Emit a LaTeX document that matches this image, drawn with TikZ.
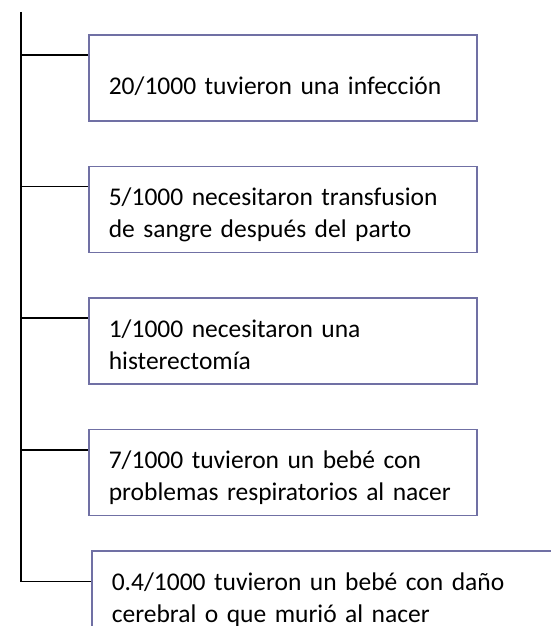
\documentclass[tikz,border=0pt]{standalone}
\usepackage{fontspec}
\setmainfont{Carlito}
\usepackage{xcolor}
\usetikzlibrary{positioning,calc}
\definecolor{borde}{RGB}{112,112,164}

\begin{document}
\begin{tikzpicture}[x=1pt, y=1pt, caja/.style={draw=borde, line width=1.6pt, minimum height=86pt, text width=348pt, inner xsep=20pt, align=left, text height=20pt, text depth=28pt, font=\fontsize{25.5}{32}\selectfont}, rama/.style={line width=1.7pt}]
		\useasboundingbox (0,0) rectangle (550,-626);
		\coordinate (raiz) at (21,-12);
		\node[caja, anchor=north west, text height=40pt, text depth=6pt] (infeccion) at (88,-34) {20/1000 tuvieron una infección};
		\node[caja, below=44pt of infeccion] (sangre) {5/1000 necesitaron transfusion\\de sangre después del parto};
		\node[caja, below=44pt of sangre] (histerectomia) {1/1000 necesitaron una\\histerectomía};
		\node[caja, below=44pt of histerectomia] (respira) {7/1000 tuvieron un bebé con\\problemas respiratorios al nacer};
		\node[caja, text width=440pt, below=34pt of respira.south west, anchor=north west, xshift=3pt] (cerebro) {0.4/1000 tuvieron un bebé con daño\\cerebral o que murió al nacer};
		\foreach \c in {infeccion, sangre, histerectomia, respira} {
			\coordinate (\c-in) at ($(\c.north west)+(0,-21)$);
			\draw[rama] (raiz |- \c-in) -- (\c-in);
		}
		\coordinate (cerebro-in) at ($(cerebro.north west)+(0,-31)$);
		\draw[rama] (raiz) |- (cerebro-in);
	\end{tikzpicture}
\end{document}
